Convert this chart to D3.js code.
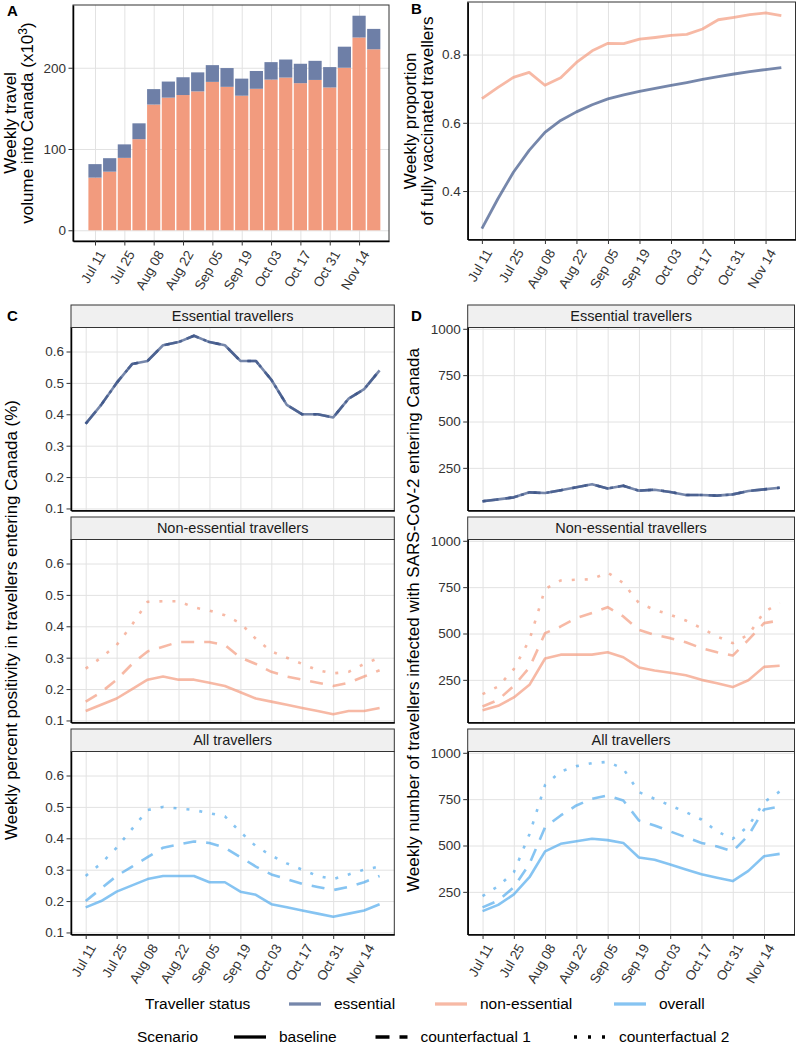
<html>

<head>
  <title>Traveller figure</title>
  <script src="https://d3js.org/d3.v7.min.js"></script>
  <style>
    body { margin: 0; background: #fff; }
    text { font-family: "Liberation Sans", Arial, sans-serif; }
    .gridlines line { stroke: #e2e2e2; stroke-width: 1; }
    .gridlines .domain { stroke: none; }
    .axis text { font-size: 13.5px; fill: #333; font-family: "Liberation Sans", Arial, sans-serif; }
    .axis line { stroke: #333; stroke-width: 1; }
    .axis .domain { stroke: #000; stroke-width: 1.5; }
    .axis-title { font-size: 17px; fill: #000; }
    .strip-text { font-size: 14.5px; fill: #1a1a1a; }
    .tag { font-size: 15px; font-weight: bold; fill: #000; }
    .legend-text { font-size: 15.5px; fill: #000; }
  </style>
</head>

<body>
  <svg id="fig" width="798" height="1052"></svg>

  <script>
    // ---- data ----
    const weeks = ['2021-07-11', '2021-07-18', '2021-07-25', '2021-08-01', '2021-08-08', '2021-08-15', '2021-08-22',
      '2021-08-29', '2021-09-05', '2021-09-12', '2021-09-19', '2021-09-26', '2021-10-03', '2021-10-10',
      '2021-10-17', '2021-10-24', '2021-10-31', '2021-11-07', '2021-11-14', '2021-11-21'];
    const tickWeeks = ['2021-07-11', '2021-07-25', '2021-08-08', '2021-08-22', '2021-09-05', '2021-09-19',
      '2021-10-03', '2021-10-17', '2021-10-31', '2021-11-14'];

    // A: weekly volume (x1000)
    const volNonEss = [64.8, 72.1, 89.1, 112.1, 154.7, 163.2, 166.4, 170.9, 182.6, 176.5, 165.6, 174.1, 185.4, 187.9, 181, 185, 175.7, 200, 237.2, 222.7];
    const volEss = [16.6, 16.6, 16.6, 19.5, 19.0, 19.8, 21.9, 23.4, 20.6, 23.1, 21.0, 21.9, 21.5, 22.2, 23.9, 23.5, 25.1, 25.9, 26.8, 25.1];

    // B: proportion fully vaccinated
    const vaxNonEss = [0.671, 0.703, 0.733, 0.748, 0.71, 0.732, 0.777, 0.811, 0.833, 0.832, 0.845, 0.85, 0.856, 0.859, 0.875, 0.902, 0.909, 0.917, 0.922, 0.914];
    const vaxEss = [0.29, 0.376, 0.455, 0.519, 0.572, 0.607, 0.632, 0.653, 0.67, 0.682, 0.692, 0.701, 0.71, 0.718, 0.727, 0.735, 0.743, 0.75, 0.756, 0.762];

    // C: percent positivity
    const posEss = [0.37, 0.43, 0.50, 0.56, 0.57, 0.62, 0.63, 0.65, 0.63, 0.62, 0.57, 0.57, 0.51, 0.43, 0.40, 0.40, 0.39, 0.45, 0.48, 0.54];
    const posNonEssBase = [0.13, 0.15, 0.17, 0.20, 0.23, 0.24, 0.23, 0.23, 0.22, 0.21, 0.19, 0.17, 0.16, 0.15, 0.14, 0.13, 0.12, 0.13, 0.13, 0.14];
    const posNonEssCf1 = [0.16, 0.19, 0.23, 0.28, 0.32, 0.335, 0.35, 0.35, 0.35, 0.34, 0.30, 0.28, 0.255, 0.24, 0.23, 0.22, 0.21, 0.22, 0.24, 0.26];
    const posNonEssCf2 = [0.265, 0.30, 0.34, 0.405, 0.478, 0.48, 0.48, 0.46, 0.45, 0.435, 0.41, 0.36, 0.32, 0.30, 0.28, 0.26, 0.25, 0.255, 0.28, 0.30];
    const posAllBase = [0.18, 0.20, 0.23, 0.25, 0.27, 0.28, 0.28, 0.28, 0.26, 0.26, 0.23, 0.22, 0.19, 0.18, 0.17, 0.16, 0.15, 0.16, 0.17, 0.19];
    const posAllCf1 = [0.20, 0.24, 0.28, 0.31, 0.34, 0.37, 0.38, 0.39, 0.385, 0.37, 0.34, 0.31, 0.285, 0.27, 0.255, 0.245, 0.235, 0.245, 0.26, 0.28];
    const posAllCf2 = [0.28, 0.32, 0.37, 0.43, 0.49, 0.50, 0.495, 0.49, 0.48, 0.47, 0.42, 0.375, 0.345, 0.32, 0.30, 0.28, 0.27, 0.285, 0.30, 0.31];

    // D: number infected
    const infEss = [70, 80, 91, 118, 114, 129, 145, 162, 139, 154, 127, 132, 120, 104, 104, 100, 107, 125, 134, 143];
    const infNonEssBase = [86, 110, 155, 223, 365, 386, 386, 386, 399, 372, 317, 300, 288, 275, 250, 232, 211, 248, 320, 326];
    const infNonEssCf1 = [106, 142, 218, 317, 502, 538, 583, 610, 642, 592, 520, 493, 475, 453, 421, 399, 381, 466, 556, 570];
    const infNonEssCf2 = [173, 214, 308, 466, 740, 786, 790, 793, 829, 772, 664, 628, 601, 570, 529, 484, 448, 493, 615, 665];
    const infAllBase = [146, 180, 236, 329, 468, 509, 523, 536, 529, 514, 435, 423, 397, 371, 345, 326, 308, 363, 442, 455];
    const infAllCf1 = [166, 203, 275, 401, 599, 662, 716, 752, 770, 743, 635, 608, 576, 545, 514, 495, 468, 554, 694, 710];
    const infAllCf2 = [227, 281, 356, 561, 827, 899, 928, 944, 951, 914, 788, 752, 716, 680, 640, 576, 536, 604, 734, 791];

    const statusNames = ['essential', 'non-essential', 'overall'];
    const scenarioNames = ['baseline', 'counterfactual 1', 'counterfactual 2'];
    const facetNames = ['Essential travellers', 'Non-essential travellers', 'All travellers'];

    // ---- styling ----
    const colEss = '#3C5488', colNon = '#F39B7F', colAll = '#52ABEC';
    const dashFor = { 'baseline': null, 'counterfactual 1': '13,10', 'counterfactual 2': '3,10' };

    const svg = d3.select('svg#fig');
    const parse = d3.timeParse('%Y-%m-%d');
    const fmt = d3.timeFormat('%b %d');
    const dates = weeks.map(parse);
    const tickDates = tickWeeks.map(parse);
    const WEEK = 7 * 86400000;

    function xScaleFor(padL, padR, x0, x1) {
      return d3.scaleTime()
        .domain([new Date(dates[0].getTime() - padL * WEEK), new Date(dates[dates.length - 1].getTime() + padR * WEEK)])
        .range([x0, x1]);
    }

    // gridlines go under the marks
    function drawGrid(x, y, yTicks) {
      const [x0, x1] = x.range(), [yb, yt] = y.range();
      svg.append('g').attr('class', 'gridlines').attr('transform', `translate(${x0},0)`)
        .call(d3.axisLeft(y).tickValues(yTicks).tickFormat('').tickSize(-(x1 - x0)).tickSizeOuter(0));
      svg.append('g').attr('class', 'gridlines').attr('transform', `translate(0,${yb})`)
        .call(d3.axisBottom(x).tickValues(tickDates).tickFormat('').tickSize(-(yb - yt)).tickSizeOuter(0));
    }

    // border + axes on top of the marks
    function drawFrame(x, y, yTicks, yFmt, xLabels) {
      const [x0, x1] = x.range(), [yb, yt] = y.range();
      svg.append('rect').attr('x', x0).attr('y', yt).attr('width', x1 - x0).attr('height', yb - yt)
        .attr('fill', 'none').attr('stroke', '#333').attr('stroke-width', 1);
      svg.append('g').attr('class', 'axis').attr('transform', `translate(${x0},0)`)
        .call(d3.axisLeft(y).tickValues(yTicks).tickFormat(yFmt).tickSize(4.5).tickPadding(2.5).tickSizeOuter(0));
      let xa = svg.append('g').attr('class', 'axis').attr('transform', `translate(0,${yb})`)
        .call(d3.axisBottom(x).tickValues(tickDates).tickFormat(xLabels ? fmt : '').tickSize(xLabels ? 4.5 : 0).tickSizeOuter(0));
      if (xLabels) {
        xa.selectAll('.tick text')
          .attr('y', 0).attr('dy', '0.72em').attr('text-anchor', 'end')
          .attr('transform', 'translate(2,8) rotate(-60)');
      }
    }

    function drawLine(x, y, values, color, scenario, width) {
      const line = d3.line().x((d, i) => x(dates[i])).y(d => y(d));
      svg.append('path').attr('d', line(values))
        .attr('fill', 'none').attr('stroke', color).attr('stroke-opacity', 0.7)
        .attr('stroke-width', width || 2.6).attr('stroke-linejoin', 'round')
        .attr('stroke-dasharray', dashFor[scenario]);
    }

    function yTitle(lines, x, yc) {
      lines.forEach((t, i) => {
        svg.append('text').attr('class', 'axis-title')
          .attr('transform', `translate(${x[i]},${yc}) rotate(-90)`)
          .attr('text-anchor', 'middle').html(t);
      });
    }

    // ---- A: stacked bars ----
    const xA = xScaleFor(1.5, 1.04, 73, 389);
    const yA = d3.scaleLinear().domain([-13.2, 277.2]).range([241, 5]);
    drawGrid(xA, yA, [0, 100, 200]);
    const bw = (xA(dates[1]) - xA(dates[0])) * 0.9;
    dates.forEach((d, i) => {
      svg.append('rect').attr('x', xA(d) - bw / 2).attr('width', bw)
        .attr('y', yA(volNonEss[i])).attr('height', yA(0) - yA(volNonEss[i]))
        .attr('fill', '#F29B7E');
      svg.append('rect').attr('x', xA(d) - bw / 2).attr('width', bw)
        .attr('y', yA(volNonEss[i] + volEss[i])).attr('height', yA(volNonEss[i]) - yA(volNonEss[i] + volEss[i]))
        .attr('fill', '#6E7FA7');
    });
    drawFrame(xA, yA, [0, 100, 200], d3.format('d'), true);
    yTitle(['Weekly travel', 'volume into Canada (x10<tspan dy="-6" font-size="12px">3</tspan><tspan dy="6">)</tspan>'], [16, 33], 123);
    svg.append('text').attr('class', 'tag').attr('x', 7).attr('y', 16).text('A');

    // ---- B: vaccinated proportion ----
    const xB = xScaleFor(0.9, 0.9, 467.7, 795.5);
    const yB = d3.scaleLinear().domain([0.258, 0.954]).range([239.5, 2]);
    drawGrid(xB, yB, [0.4, 0.6, 0.8]);
    drawLine(xB, yB, vaxNonEss, colNon, 'baseline', 2.8);
    drawLine(xB, yB, vaxEss, colEss, 'baseline', 2.8);
    drawFrame(xB, yB, [0.4, 0.6, 0.8], d3.format('.1f'), true);
    yTitle(['Weekly proportion', 'of fully vaccinated travellers'], [416, 433], 121);
    svg.append('text').attr('class', 'tag').attr('x', 411).attr('y', 14).text('B');

    // ---- C and D: three facets each ----
    const facetRows = [
      { s0: 305, top: 327.5, bottom: 510.5 },
      { s0: 517, top: 539.5, bottom: 722.5 },
      { s0: 729, top: 751.5, bottom: 934.5 }
    ];
    const xC = xScaleFor(0.95, 0.95, 71, 394.3);
    const xD = xScaleFor(0.95, 0.95, 467.7, 794.5);

    const posSeries = [
      [posEss, posEss, posEss],
      [posNonEssBase, posNonEssCf1, posNonEssCf2],
      [posAllBase, posAllCf1, posAllCf2]
    ];
    const infSeries = [
      [infEss, infEss, infEss],
      [infNonEssBase, infNonEssCf1, infNonEssCf2],
      [infAllBase, infAllCf1, infAllCf2]
    ];
    const facetColors = [colEss, colNon, colAll];

    function drawFacets(x, domain, yTicks, yFmt, series) {
      const [x0, x1] = x.range();
      facetRows.forEach((row, f) => {
        const y = d3.scaleLinear().domain(domain).range([row.bottom, row.top]);
        drawGrid(x, y, yTicks);
        scenarioNames.forEach((sc, k) => {
          drawLine(x, y, series[f][k], facetColors[f], sc);
        });
        drawFrame(x, y, yTicks, yFmt, f === 2);
        svg.append('rect').attr('x', x0).attr('y', row.s0).attr('width', x1 - x0).attr('height', row.top - row.s0)
          .attr('fill', '#f0f0f0').attr('stroke', '#333').attr('stroke-width', 1);
        svg.append('text').attr('class', 'strip-text')
          .attr('x', (x0 + x1) / 2).attr('y', (row.s0 + row.top) / 2).attr('dy', '0.35em')
          .attr('text-anchor', 'middle').text(facetNames[f]);
      });
    }

    drawFacets(xC, [0.0935, 0.6765], [0.1, 0.2, 0.3, 0.4, 0.5, 0.6], d3.format('.1f'), posSeries);
    drawFacets(xD, [20, 1007], [250, 500, 750, 1000], d3.format('d'), infSeries);

    yTitle(['Weekly percent positivity in travellers entering Canada (%)'], [17], 620);
    yTitle(['Weekly number of travellers infected with SARS-CoV-2 entering Canada'], [419], 620);
    svg.append('text').attr('class', 'tag').attr('x', 7).attr('y', 321).text('C');
    svg.append('text').attr('class', 'tag').attr('x', 411).attr('y', 321).text('D');

    // ---- legends ----
    const lg = svg.append('g');
    const row1 = 1004, row2 = 1037;
    lg.append('text').attr('class', 'legend-text').attr('x', 145).attr('y', row1).attr('dy', '0.35em').text('Traveller status');
    const statusKeys = [289, 435, 614];
    statusNames.forEach((s, i) => {
      lg.append('line').attr('x1', statusKeys[i]).attr('x2', statusKeys[i] + 32).attr('y1', row1).attr('y2', row1)
        .attr('stroke', facetColors[i]).attr('stroke-opacity', 0.7).attr('stroke-width', 3.3);
      lg.append('text').attr('class', 'legend-text').attr('x', statusKeys[i] + 45).attr('y', row1).attr('dy', '0.35em').text(s);
    });
    lg.append('text').attr('class', 'legend-text').attr('x', 137).attr('y', row2).attr('dy', '0.35em').text('Scenario');
    const scenKeys = [234, 375.5, 574];
    scenarioNames.forEach((s, i) => {
      lg.append('line').attr('x1', scenKeys[i]).attr('x2', scenKeys[i] + 32).attr('y1', row2).attr('y2', row2)
        .attr('stroke', '#000').attr('stroke-width', 3.3)
        .attr('stroke-dasharray', s === 'counterfactual 1' ? '14,10' : (s === 'counterfactual 2' ? '3,11' : null));
      lg.append('text').attr('class', 'legend-text').attr('x', scenKeys[i] + 45).attr('y', row2).attr('dy', '0.35em').text(s);
    });
  </script>
</body>

</html>
